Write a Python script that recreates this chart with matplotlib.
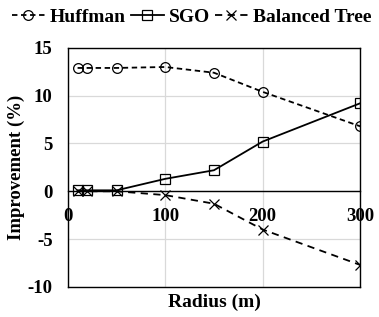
import matplotlib
matplotlib.use("Agg")
import matplotlib.pyplot as plt

plt.rcParams['font.family'] = ['Liberation Serif', 'DejaVu Serif']
plt.rcParams['font.weight'] = 'bold'
plt.rcParams['axes.unicode_minus'] = False

# data
radius = [10, 20, 50, 100, 150, 200, 300]
huffman = [12.9, 12.9, 12.9, 13.0, 12.4, 10.4, 6.8]
sgo = [0.1, 0.1, 0.1, 1.3, 2.2, 5.2, 9.2]
balanced = [0.0, 0.0, 0.0, -0.4, -1.3, -4.0, -7.7]

xticks = [0, 100, 200, 300]
yticks = [-10, -5, 0, 5, 10, 15]

fig = plt.figure(figsize=(3.79, 3.17), dpi=100)
ax = fig.add_axes([0.179, 0.095, 0.771, 0.754])

ax.plot(radius, huffman, linestyle='--', color='black', marker='o', markersize=7,
        markerfacecolor='none', markeredgewidth=0.9, lw=1.3, dashes=(3, 2), label='Huffman')
ax.plot(radius, sgo, linestyle='-', color='black', marker='s', markersize=7,
        markerfacecolor='none', markeredgewidth=0.9, lw=1.3, label='SGO')
ax.plot(radius, balanced, linestyle='--', color='black', marker='x', markersize=7,
        markeredgewidth=0.9, lw=1.3, dashes=(4, 3), label='Balanced Tree')

ax.set_xlim(0, 300)
ax.set_ylim(-10, 15)
ax.set_xticks(xticks)
ax.set_yticks(yticks)
ax.grid(True, color='#d9d9d9', lw=0.9)
ax.set_axisbelow(True)

# x axis drawn through zero, keep a frame line at the bottom
ax.spines['bottom'].set_position(('data', 0))
ax.axhline(-10, color='black', lw=1.0, clip_on=False)
for s in ['left', 'right', 'top', 'bottom']:
    ax.spines[s].set_linewidth(1.0)

ax.tick_params(axis='both', length=0, labelsize=13.5)
ax.tick_params(axis='x', pad=12)
ax.tick_params(axis='y', pad=11)
for lbl in ax.get_xticklabels() + ax.get_yticklabels():
    lbl.set_fontweight('bold')

ax.set_xlabel('Radius (m)', fontsize=14, fontweight='bold')
ax.xaxis.set_label_coords(0.5, -0.03)
ax.set_ylabel('Improvement (%)', fontsize=13.5, fontweight='bold')
ax.yaxis.set_label_coords(-0.145, 0.5)

fig.legend(loc='upper center', bbox_to_anchor=(0.505, 1.03), ncol=3, frameon=False,
           handlelength=1.7, handletextpad=0.25, columnspacing=0.25,
           prop={'weight': 'bold', 'size': 14})

fig.savefig('out.png', dpi=100)
